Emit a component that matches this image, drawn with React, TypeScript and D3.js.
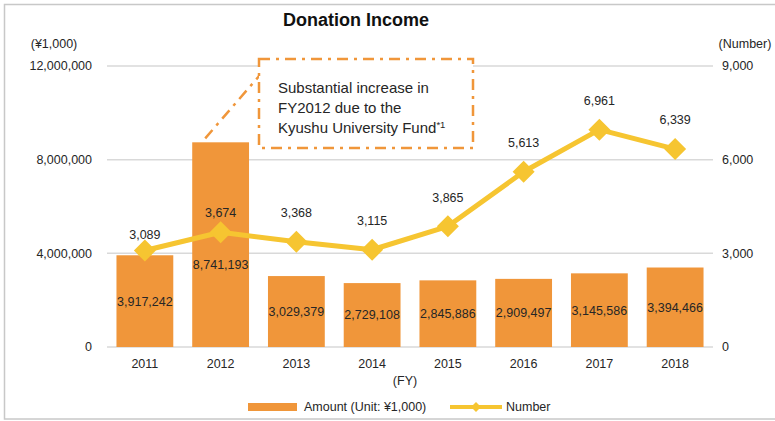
import React from 'react';
import * as d3 from 'd3';

const years = ['2011', '2012', '2013', '2014', '2015', '2016', '2017', '2018'];
const amounts = [3917242, 8741193, 3029379, 2729108, 2845886, 2909497, 3145586, 3394466];
const counts = [3089, 3674, 3368, 3115, 3865, 5613, 6961, 6339];
const leftTicks = [0, 4000000, 8000000, 12000000];
const rightTicks = [0, 3000, 6000, 9000];
const noteLines = ['Substantial increase in', 'FY2012 due to the', 'Kyushu University Fund'];

const BAR = '#F0963A';
const LINE = '#F6C531';
const TEXT = '#262626';
const FONT = 'Liberation Sans, Arial, sans-serif';

export default function App() {
  const width = 775;
  const height = 421;
  const margin = { top: 66, right: 62, bottom: 74, left: 107 };
  const innerW = width - margin.left - margin.right;
  const innerH = height - margin.top - margin.bottom;

  const x = d3.scaleBand().domain(years).range([0, innerW]).paddingInner(0.25).paddingOuter(0.125);
  const yL = d3.scaleLinear().domain([0, 12000000]).range([innerH, 0]);
  const yR = d3.scaleLinear().domain([0, 9000]).range([innerH, 0]);
  const fmt = d3.format(',');

  const cx = (i: number) => (x(years[i]) as number) + x.bandwidth() / 2;
  const line = d3
    .line<number>()
    .x((_, i) => cx(i))
    .y((d) => yR(d));

  // small nudges where the original labels sit off the default spot
  const barLabelDy = (i: number) => (i === 1 ? 20 : 0);
  const ptLabelDy = (i: number) => (i === 0 ? 16 : i === 1 ? 20 : 29);

  const d = 11;
  const diamond = `M0,${-d}L${d},0L0,${d}L${-d},0Z`;

  const b12 = x('2012') as number;
  const fs = 12.5;

  return (
    <svg width={width} height={height} style={{ position: 'absolute', left: 0, top: 0 }} fontFamily={FONT}>
      <rect x={4.5} y={4.5} width={775} height={414.5} fill="#fff" stroke="#c8c8c8" strokeWidth={1.5} />
      <text x={356} y={26} textAnchor="middle" fontSize={18} fontWeight="bold" fill="#111">
        Donation Income
      </text>
      <text x={54} y={48} textAnchor="middle" fontSize={fs} fill={TEXT}>(¥1,000)</text>
      <text x={745} y={48} textAnchor="middle" fontSize={fs} fill={TEXT}>(Number)</text>
      <g transform={`translate(${margin.left},${margin.top})`}>
        {leftTicks.map((t) => (
          <g key={t}>
            <line x1={0} x2={innerW} y1={yL(t)} y2={yL(t)} stroke="#d9d9d9" strokeWidth={1.5} />
            <text x={-15} y={yL(t)} dy="0.35em" textAnchor="end" fontSize={fs} fill={TEXT}>
              {fmt(t)}
            </text>
          </g>
        ))}
        {rightTicks.map((t) => (
          <text key={t} x={innerW + 9} y={yR(t)} dy="0.35em" fontSize={fs} fill={TEXT}>
            {fmt(t)}
          </text>
        ))}
        {amounts.map((v, i) => (
          <rect key={i} x={x(years[i])} y={yL(v)} width={x.bandwidth()} height={innerH - yL(v)} fill={BAR} />
        ))}
        {amounts.map((v, i) => (
          <text
            key={i}
            x={cx(i)}
            y={(yL(v) + innerH) / 2 + barLabelDy(i)}
            dy="0.35em"
            textAnchor="middle"
            fontSize={fs}
            fill={TEXT}
          >
            {fmt(v)}
          </text>
        ))}
        {years.map((yr, i) => (
          <text key={yr} x={cx(i)} y={innerH + 17} dy="0.35em" textAnchor="middle" fontSize={fs} fill={TEXT}>
            {yr}
          </text>
        ))}
        <path d={line(counts) || ''} fill="none" stroke={LINE} strokeWidth={5} strokeLinejoin="round" />
        {counts.map((v, i) => (
          <path key={i} d={diamond} transform={`translate(${cx(i)},${yR(v)})`} fill={LINE} />
        ))}
        {counts.map((v, i) => (
          <text key={i} x={cx(i)} y={yR(v) - ptLabelDy(i)} dy="0.35em" textAnchor="middle" fontSize={fs} fill={TEXT}>
            {fmt(v)}
          </text>
        ))}
      </g>
      {/* annotation callout */}
      <g stroke={BAR} strokeWidth={2.5} fill="none" strokeDasharray="11 6 3 6">
        <line x1={b12 + margin.left + 13} y1={yL(amounts[1]) + margin.top - 4} x2={260} y2={75} />
        <rect x={259} y={59} width={214} height={89} fill="#fff" />
      </g>
      {noteLines.map((s, i) => (
        <text key={i} x={278} y={93 + i * 20} fontSize={15} fill={TEXT}>
          {s}
          {i === 2 && (
            <tspan fontSize={9.5} dy={-5}>
              *1
            </tspan>
          )}
        </text>
      ))}
      <text x={405} y={385} textAnchor="middle" fontSize={fs} fill={TEXT}>(FY)</text>
      <rect x={248} y={403} width={49} height={8} fill={BAR} />
      <text x={304} y={407} dy="0.35em" fontSize={fs} fill={TEXT}>Amount (Unit: ¥1,000)</text>
      <line x1={450} x2={502} y1={407} y2={407} stroke={LINE} strokeWidth={4} />
      <path d="M0,-5L5,0L0,5L-5,0Z" transform="translate(476,407)" fill={LINE} />
      <text x={506} y={407} dy="0.35em" fontSize={fs} fill={TEXT}>Number</text>
    </svg>
  );
}
